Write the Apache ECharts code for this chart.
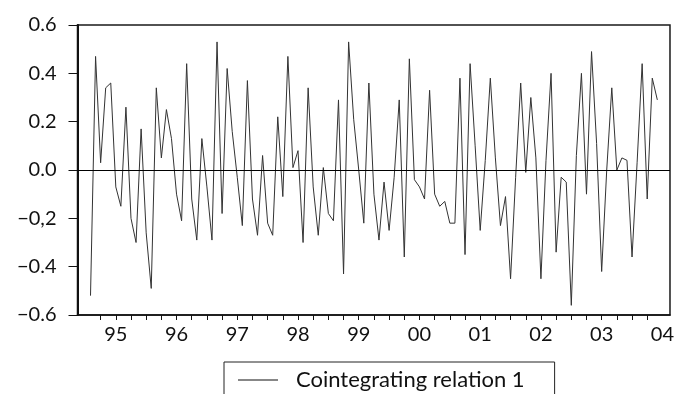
<!DOCTYPE html>
<html>
<head>
<meta charset="utf-8">
<script src="https://cdn.jsdelivr.net/npm/echarts@6/dist/echarts.min.js"></script>
<style>
html,body{margin:0;padding:0;background:#fff;}
#chart{width:677px;height:394px;}
</style>
</head>
<body>
<div id="chart"></div>
<script>
// Monthly observations, 1994M08 .. 2003M12
const seriesName = 'Cointegrating relation 1';
const startYear = 1994, startMonth = 8;
const values = [
  -0.52, 0.47, 0.03, 0.34, 0.36,
  -0.07, -0.15, 0.26, -0.20, -0.30, 0.17, -0.26, -0.49, 0.34, 0.05, 0.25, 0.13,
  -0.10, -0.21, 0.44, -0.12, -0.29, 0.13, -0.07, -0.29, 0.53, -0.18, 0.42, 0.16,
  -0.03, -0.23, 0.37, -0.12, -0.27, 0.06, -0.22, -0.27, 0.22, -0.11, 0.47, 0.01,
  0.08, -0.30, 0.34, -0.07, -0.27, 0.01, -0.18, -0.21, 0.29, -0.43, 0.53, 0.21,
  0.00, -0.22, 0.36, -0.10, -0.29, -0.05, -0.25, -0.03, 0.29, -0.36, 0.46, -0.04,
  -0.07, -0.12, 0.33, -0.10, -0.15, -0.13, -0.22, -0.22, 0.38, -0.35, 0.44, 0.10,
  -0.25, 0.04, 0.38, 0.05, -0.23, -0.11, -0.45, -0.03, 0.36, -0.01, 0.30, 0.05,
  -0.45, 0.04, 0.40, -0.34, -0.03, -0.05, -0.56, 0.06, 0.40, -0.10, 0.49, 0.11,
  -0.42, 0.00, 0.34, 0.00, 0.05, 0.04, -0.36, 0.03, 0.44, -0.12, 0.38, 0.29
];
const yearLabels = ['95','96','97','98','99','00','01','02','03','04'];
const yTickLabels = ['\u22120.6','\u22120.4','\u22120,2','0.0','0.2','0.4','0.6'];

// x position = months since 1995M01
const firstYear = 1995;
const k0 = (startYear - firstYear) * 12 + (startMonth - 1);
const data = values.map((v, i) => [k0 + i, v]);

const quarterTicks = [];
for (let k = -3; k <= 105; k += 3) quarterTicks.push(k);
const yearTicks = yearLabels.map((_, i) => i * 12);

const FONT = 'Lato';
const chart = echarts.init(document.getElementById('chart'), null, {renderer: 'canvas'});
chart.setOption({
  animation: false,
  backgroundColor: '#fff',
  grid: {
    left: 77.5, right: 6, top: 25, bottom: 79,
    show: true, borderColor: '#1a1a1a', borderWidth: 1.5, backgroundColor: 'transparent'
  },
  xAxis: {
    type: 'value',
    min: -7.57, max: 109.5,
    axisLine: {show: true, onZero: false, lineStyle: {color: '#111', width: 1.5}},
    axisTick: {show: true, length: 5, customValues: quarterTicks, lineStyle: {color: '#111', width: 1}},
    axisLabel: {
      show: true, customValues: yearTicks, margin: 10,
      fontFamily: FONT, fontSize: 20, color: '#111',
      formatter: v => yearLabels[Math.round(v / 12)]
    },
    splitLine: {show: false}
  },
  yAxis: {
    type: 'value',
    min: -0.6, max: 0.6, interval: 0.2,
    axisLine: {show: true, onZero: false, lineStyle: {color: '#111', width: 2}},
    axisTick: {show: true, length: 9, lineStyle: {color: '#111', width: 1}},
    axisLabel: {
      margin: 21, fontFamily: FONT, fontSize: 20, color: '#111',
      formatter: v => yTickLabels[Math.round((v + 0.6) / 0.2)]
    },
    splitLine: {show: false}
  },
  legend: {
    show: true,
    left: 224, top: 362,
    padding: [5, 30, 30, 14],
    borderColor: '#222', borderWidth: 1,
    itemWidth: 40, itemHeight: 14,
    textStyle: {fontFamily: FONT, fontSize: 22, color: '#111', padding: [0, 0, 0, 13], lineHeight: 26},
    data: [{name: seriesName, icon: 'path://M0,0 L40,0 L40,1 L0,1 Z', itemStyle: {color: '#111'}}]
  },
  series: [{
    name: seriesName,
    type: 'line',
    data: data,
    symbol: 'none',
    lineStyle: {color: '#333', width: 1},
    itemStyle: {color: '#333'},
    markLine: {
      silent: true, symbol: 'none', label: {show: false},
      lineStyle: {color: '#000', width: 1, type: 'solid'},
      data: [{yAxis: 0}]
    }
  }]
});
</script>
</body>
</html>
